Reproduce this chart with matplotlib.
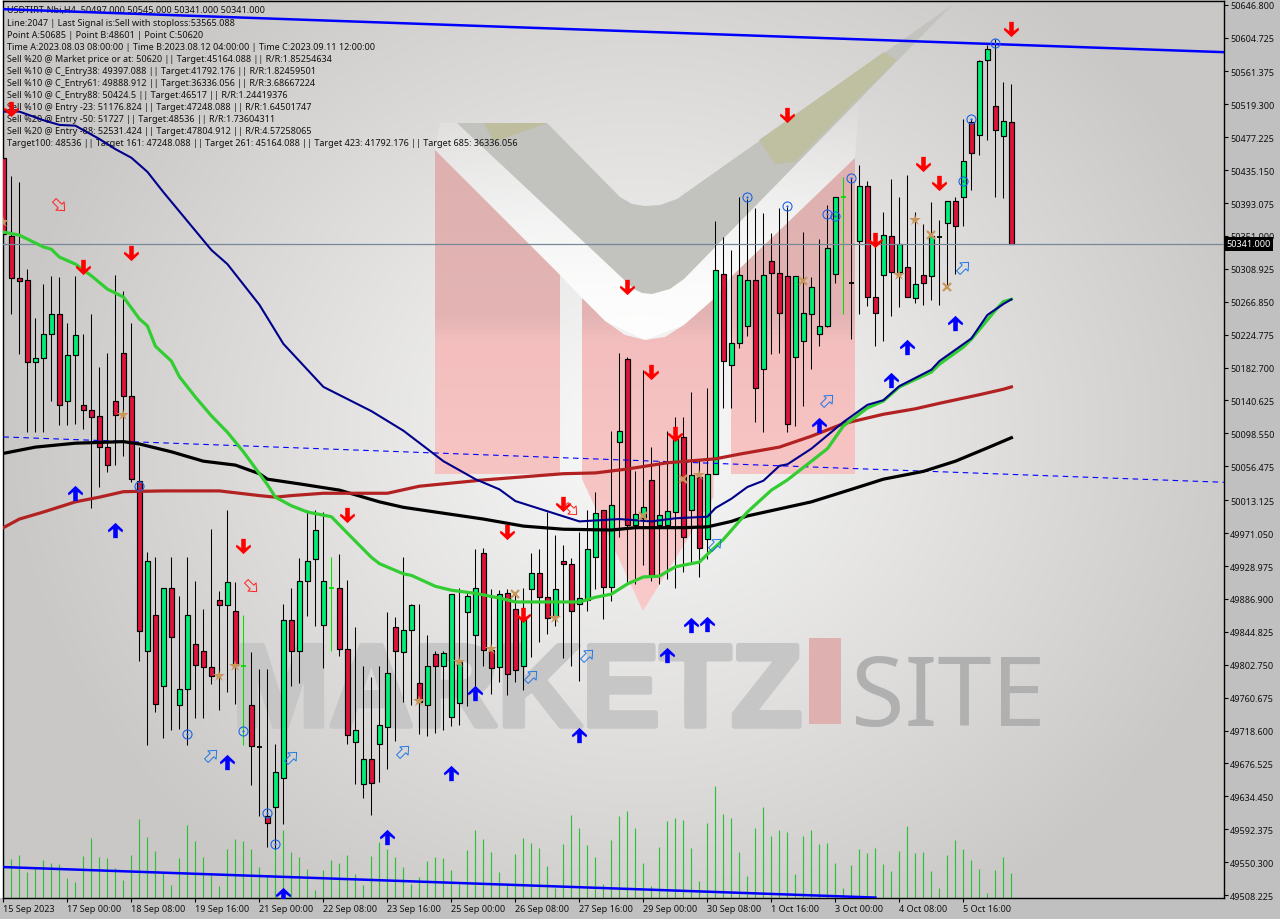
import numpy as np
import matplotlib
matplotlib.use('Agg')
import matplotlib.pyplot as plt
import matplotlib.patheffects as pe
from matplotlib.path import Path
from matplotlib.patches import Polygon, PathPatch, Rectangle

plt.rcParams['font.family'] = ['Noto Sans', 'DejaVu Sans']
FS = 6.5

# OHLC, one row per 4h bar
o = [50451,50351,50297,50295,50190,50195,50226,50251,50140,50199,50135,50128,50121,50081,50140,50201,50146,50038,49820,49866,
     49776,49901,49751,49772,49829,49820,49800,49885,49879,49871,49801,49751,49698,49609,49621,49658,49860,49820,49910,49938,
     49854,49901,49901,49823,49704,49650,49682,49701,49723,49851,49819,49847,49779,49751,49816,49801,49736,49754,49870,49841,
     49946,49822,49800,49894,49874,49801,49900,49920,49889,49865,49935,49932,49880,49885,49940,50001,49902,50088,50194,49981,
     49990,50039,49981,49981,49998,50094,50001,50043,49963,50047,50302,50186,50214,50236,50295,50181,50319,50304,50300,50196,
     50217,50251,50226,50236,50302,50401,50291,50345,50415,50273,50301,50351,50305,50311,50272,50301,50300,50350,50368,50396,
     50401,50497,50480,50576,50517,50479,50497]
h = [50488,50428,50420,50309,50246,50290,50300,50299,50240,50300,50226,50251,50183,50201,50301,50281,50240,50081,49947,49940,
     49901,49940,49891,49940,49910,49874,49976,49897,50001,49909,49866,49819,49797,49797,49701,49880,49901,49939,50001,50001,
     49998,49940,49944,49911,49851,49801,49787,49801,49870,49864,49940,49880,49880,49841,49820,49820,49893,49901,49896,49951,
     49952,49900,49898,49900,49896,49901,49946,49951,49998,49969,49956,49939,49972,50001,50024,50001,50102,50201,50196,50050,
     50180,50081,50063,50102,50119,50119,50151,50066,50157,50370,50350,50333,50401,50398,50387,50380,50355,50387,50388,50300,
     50356,50299,50347,50391,50401,50426,50425,50442,50421,50343,50382,50424,50401,50429,50382,50366,50394,50371,50396,50401,
     50501,50501,50576,50595,50603,50548,50545]
l = [50309,50251,50200,50100,50100,50100,50140,50109,50109,50111,50104,50003,50030,50049,50058,50070,50036,49807,49700,49742,
     49709,49719,49721,49700,49735,49735,49778,49745,49768,49752,49700,49649,49609,49570,49567,49599,49776,49779,49865,49852,
     49799,49820,49814,49701,49650,49632,49611,49653,49669,49705,49755,49751,49714,49712,49715,49719,49724,49726,49750,49759,
     49801,49765,49781,49764,49781,49770,49813,49832,49842,49852,49811,49801,49782,49871,49900,49861,49884,49966,49909,49906,
     49930,49910,49906,49912,49901,49921,49934,49915,49938,50047,50131,50131,50208,50223,50113,50100,50200,50201,50100,50108,
     50134,50181,50210,50235,50291,50251,50219,50251,50261,50210,50217,50249,50260,50273,50265,50263,50269,50263,50287,50302,
     50364,50410,50455,50474,50401,50400,50341]
c = [50353,50297,50293,50190,50195,50226,50251,50135,50199,50224,50128,50119,50081,50058,50122,50146,50040,49846,49935,49752,
     49901,49838,49772,49866,49802,49800,49788,49879,49909,49802,49801,49699,49698,49600,49666,49860,49820,49910,49935,49975,
     49910,49901,49823,49713,49719,49682,49651,49726,49792,49820,49847,49879,49755,49801,49801,49818,49893,49806,49891,49901,
     49822,49799,49893,49791,49796,49864,49920,49889,49862,49900,49932,49871,49888,49951,49997,49902,50007,50102,49981,49995,
     50004,49917,49994,49999,50091,49966,50045,49952,50047,50307,50191,50214,50301,50295,50157,50301,50304,50252,50111,50300,
     50252,50286,50236,50336,50401,50401,50291,50415,50273,50252,50352,50305,50341,50273,50290,50291,50351,50350,50396,50364,
     50447,50457,50575,50590,50486,50498,50341]
lime_doji = [30, 41, 105]

volume = [42,39,43,26,31,38,35,34,20,16,42,60,41,40,30,18,43,79,61,47,26,13,40,73,57,41,23,12,49,59,57,49,31,22,50,68,46,41,29,8,
          28,38,35,43,24,13,42,56,49,41,31,14,21,37,41,40,28,14,48,68,59,46,26,15,44,60,55,50,32,10,54,83,70,53,41,14,58,82,87,70,
          35,12,51,77,80,78,50,17,75,112,84,80,46,22,70,91,62,68,66,24,62,68,54,55,35,10,33,49,45,50,34,27,47,72,45,46,27,10,43,58,
          49,38,29,5,28,41,25]

# moving averages, read at some bars
ma_green_i = [0,2,5,6,7,9,11,13,15,17,18,19,21,22,24,26,28,30,32,33,34,36,38,41,43,46,47,50,51,54,56,59,62,64,69,72,74,76,78,80,82,84,87,88,90,93,96,98,101,103,105,108,110,112,116,117,120,121,124,125,126]
ma_green = [50356,50352,50337,50334,50324,50315,50300,50283,50273,50245,50236,50210,50191,50171,50145,50121,50100,50075,50047,50033,50017,50006,49998,49992,49971,49940,49932,49919,49917,49903,49898,49894,49888,49883,49883,49883,49889,49893,49906,49915,49916,49928,49934,49944,49963,49998,50026,50039,50063,50079,50108,50131,50140,50158,50177,50187,50209,50219,50256,50267,50270]
ma_navy_i = [0,2,5,7,9,12,14,16,18,20,23,26,28,32,35,40,46,50,55,59,62,64,68,72,77,81,84,88,89,91,93,95,97,98,101,105,108,110,112,116,117,121,123,125,126]
ma_navy = [50510,50510,50499,50493,50492,50475,50462,50451,50433,50407,50370,50333,50315,50263,50213,50158,50127,50102,50063,50040,50027,50012,49999,49986,49989,49986,49990,49992,50003,50015,50030,50038,50057,50059,50079,50113,50135,50141,50159,50180,50191,50220,50250,50264,50270]
ma_red_i = [0,2,5,9,12,15,20,27,32,34,36,40,48,52,60,70,74,78,83,89,92,97,101,105,110,114,117,122,125,126]
ma_red = [49978,49989,49998,50011,50017,50024,50025,50025,50019,50017,50019,50022,50022,50031,50039,50047,50048,50053,50061,50066,50072,50081,50095,50111,50123,50130,50137,50148,50155,50158]
ma_black_i = [0,4,9,15,17,21,25,29,32,33,37,42,47,50,56,60,65,70,76,79,85,88,91,93,97,101,106,110,115,119,123,126]
ma_black = [50073,50081,50086,50088,50085,50075,50063,50058,50047,50040,50034,50026,50011,50004,49995,49989,49980,49976,49975,49978,49978,49979,49986,49993,50002,50011,50027,50040,50050,50063,50080,50093]

# trend lines, (bar, price) at both ends
trend_top_i, trend_top = [0, 152.6], [50641, 50586]
trend_low_i, trend_low = [0, 109], [49544, 49505]
trend_dash_i, trend_dash = [0, 152.6], [50094, 50036]
last_price = 50341

# signals
sell_i = [1,10,16,30,43,63,70,65,78,81,84,98,109,115,117,126]
sell_p = [50513,50311,50329,49955,49994,49972,50008,49866,50286,50177,50098,50506,50346,50443,50419,50616]
buy_i = [9,14,28,35,48,56,59,72,83,86,88,102,111,113,119]
buy_p = [50022,49975,49678,49508,49582,49664,49767,49713,49815,49854,49855,50109,50167,50209,50240]
hollow_up_i = [26,36,50,66,73,89,103,120]
hollow_up_p = [49687,49685,49692,49788,49815,49957,50141,50311]
hollow_dn_i = [7,31,71]
hollow_dn_p = [50391,49903,50002]
ring_i = [17,23,30,33,34,93,98,103,104,106,120,121,124]
ring_p = [50031,49714,49718,49613,49573,50401,50389,50379,50377,50425,50421,50501,50598]
star_i = [0,15,27,29,52,57,61,69,87,112,114]
star_p = [50369,50122,49788,49801,49756,49806,49823,49862,50045,50301,50371]
cross_i = [64,80,85,100,116,118]
cross_p = [49893,49993,50040,50293,50352,50286]

ytick_vals = [50646.800,50604.725,50561.375,50519.300,50477.225,50435.150,50393.075,50351.000,50308.925,50266.850,
              50224.775,50182.700,50140.625,50098.550,50056.475,50013.125,49971.050,49928.975,49886.900,49844.825,
              49802.750,49760.675,49718.600,49676.525,49634.450,49592.375,49550.300,49508.225]
xtick_labels = ['15 Sep 2023','17 Sep 00:00','18 Sep 08:00','19 Sep 16:00','21 Sep 00:00','22 Sep 08:00','23 Sep 16:00','25 Sep 00:00',
                '26 Sep 08:00','27 Sep 16:00','29 Sep 00:00','30 Sep 08:00','1 Oct 16:00','3 Oct 00:00','4 Oct 08:00','5 Oct 16:00']

header = ['USDTIRT-Nbi,H4  50497.000 50545.000 50341.000 50341.000',
          'Line:2047 | Last Signal is:Sell with stoploss:53565.088',
          'Point A:50685 | Point B:48601 | Point C:50620',
          'Time A:2023.08.03 08:00:00 | Time B:2023.08.12 04:00:00 | Time C:2023.09.11 12:00:00',
          'Sell %20 @ Market price or at: 50620 || Target:45164.088 || R/R:1.85254634',
          'Sell %10 @ C_Entry38: 49397.088 || Target:41792.176 || R/R:1.82459501',
          'Sell %10 @ C_Entry61: 49888.912 || Target:36336.056 || R/R:3.68667224',
          'Sell %10 @ C_Entry88: 50424.5 || Target:46517 || R/R:1.24419376',
          'Sell %10 @ Entry -23: 51176.824 || Target:47248.088 || R/R:1.64501747',
          'Sell %20 @ Entry -50: 51727 || Target:48536 || R/R:1.73604311',
          'Sell %20 @ Entry -88: 52531.424 || Target:47804.912 || R/R:4.57258065',
          'Target100: 48536 || Target 161: 47248.088 || Target 261: 45164.088 || Target 423: 41792.176 || Target 685: 36336.056']

W, H = 1280, 920
L, R, T, B = 3, 1224, 2, 899
fig = plt.figure(figsize=(W/100, H/100), dpi=100, facecolor='#C0C0C0')
box = [L/W, 1-B/H, (R-L)/W, (B-T)/H]
fig.patches.append(Rectangle((0, 1-B/H), L/W, B/H, transform=fig.transFigure, fc='white', ec='none'))

# ---- background and watermark, in pixels ----
bg = fig.add_axes(box, zorder=1)
bg.axis('off')
yy, xx = np.mgrid[T:B:200j, L:R:300j]
r = np.minimum(np.sqrt(((xx-640)/640)**2 + ((yy-430)/570)**2), 1)
v = 250 - 48*r
img = np.dstack([v, v-2*r, v-4*r])/255
bg.imshow(img, extent=(L, R, B, T), aspect='auto', zorder=0, interpolation='bilinear')

# white band round the chevron, fades out upwards
band = PathPatch(Path([(440,124),(457,124),(634,290),(652,295),(670,285),(860,90),(855,159),(731,278),(713,302),(684,326),(645,341),(605,322),(582,299),(560,276),(435,151),(440,124)],
                      closed=True), transform=bg.transData, fc='none', ec='none')
bg.add_patch(band)
a = np.interp(np.linspace(90, 345, 100), [90, 160, 300, 345], [0.0, 0.3, 0.85, 0.9])
white = np.ones((100, 1, 4))
white[:, 0, 3] = a
im_band = bg.imshow(white, extent=(430, 865, 345, 90), aspect='auto', zorder=1)
im_band.set_clip_path(band)

# pink M with a vertical shade
pink = [[(435,151),(560,276),(560,475),(435,475)],
        [(582,299),(605,322),(625,336),(645,341),(665,338),(684,326),(713.6,300),(713.6,498),(643,612),(582,480)],
        [(731,278),(855,159),(855,475),(731,475)]]
verts, codes = [], []
for poly in pink:
    verts += poly + [poly[0]]
    codes += [Path.MOVETO] + [Path.LINETO]*(len(poly)-1) + [Path.CLOSEPOLY]
pink_path = PathPatch(Path(verts, codes), transform=bg.transData, fc='none', ec='none')
bg.add_patch(pink_path)
s = np.linspace(0, 1, 100)[:, None]
stops_y = [0, 0.36, 0.42, 1]
shade = np.dstack([np.interp(s, stops_y, [222,228,244,250]), np.interp(s, stops_y, [176,180,190,202]), np.interp(s, stops_y, [176,180,190,202])])/255
im = bg.imshow(shade, extent=(430, 860, 612, 150), aspect='auto', zorder=2)
im.set_clip_path(pink_path)
bg.set_xlim(L, R)
bg.set_ylim(B, T)
# grey chevron
bg.add_patch(Polygon([(457,124),(547,124),(620,198),(632,205),(645,207),(660,206),(677,200),(952,6),(684,280),(670,290),(652,295),(642,294),(634,290)],
                     fc='#C2C2BF', ec='none', zorder=3))
bg.add_patch(Polygon([(484,124),(547,124),(494,143)], fc='#BEBE9E', ec='none', zorder=4))
bg.add_patch(Polygon([(759,141),(884,53),(897,61),(795,163),(775,165)], fc='#BFBFA2', ec='none', zorder=4))

bg.text(232, 727, 'MARKETZ', fontsize=84, family=['Liberation Sans', 'DejaVu Sans'], fontweight='bold', color='#C6C6C6',
        va='baseline', ha='left', zorder=5, path_effects=[pe.withStroke(linewidth=4, foreground='#C6C6C6')])
bg.add_patch(Rectangle((809, 639), 32, 86, fc='#DFB0B0', ec='none', zorder=5))
bg.text(851, 726, 'SITE', fontsize=70, color='#B0B0B0', va='baseline', ha='left', zorder=5)

y0 = 10.3
for k, line in enumerate(header):
    bg.text(7, y0 + 12*k + (1.4 if k > 0 else 0), line, fontsize=FS, color='#111111', va='center', ha='left', zorder=6)

# ---- volume ----
xmin = (L-3.4)/8
xmax = (R-3.4)/8
av = fig.add_axes(box, zorder=2)
av.patch.set_visible(False)
av.axis('off')
av.set_xlim(xmin, xmax)
av.set_ylim(0, B-T)
av.vlines(range(len(volume)), 0, volume, color='#2FC03A', lw=0.85, snap=True)

# ---- price ----
ax = fig.add_axes(box, zorder=3)
ax.patch.set_visible(False)
ax.set_xlim(xmin, xmax)
ax.set_ylim(50654-1.2787*B, 50654-1.2787*T)

idx = np.arange(len(o))
o, h, l, c = map(np.array, (o, h, l, c))
wick_cols = ['#00E000' if i in lime_doji else 'black' for i in idx]
ax.vlines(idx, l, h, colors=wick_cols, lw=0.75, zorder=2, snap=True)
up = c > o
dn = c < o
ax.bar(idx[up], (c-o)[up], bottom=o[up], width=0.55, color='#00EE76', edgecolor='black', lw=0.85, zorder=3)
ax.bar(idx[dn], (o-c)[dn], bottom=c[dn], width=0.55, color='#DC143C', edgecolor='black', lw=0.85, zorder=3)
flat = c == o
ax.hlines(o[flat], idx[flat]-0.3, idx[flat]+0.3, colors=[wick_cols[i] for i in idx[flat]], lw=1.3, zorder=3)

ax.plot(trend_dash_i, trend_dash, color='#0000FF', lw=0.8, ls=(0, (5, 4)), zorder=4)
ax.plot(trend_top_i, trend_top, color='#0000FF', lw=1.8, zorder=4)
ax.plot(trend_low_i, trend_low, color='#0000FF', lw=1.8, zorder=4)
ax.plot(ma_black_i, ma_black, color='black', lw=2.3, zorder=5)
ax.plot(ma_red_i, ma_red, color='#B22222', lw=2.3, zorder=5)
ax.plot(ma_green_i, ma_green, color='#32CD32', lw=2.3, zorder=5)
ax.plot(ma_navy_i, ma_navy, color='#00008B', lw=1.5, zorder=6)
ax.axhline(last_price, color='#778899', lw=0.9, zorder=4)

# signal markers
arrow = np.array([(0,1),(1,0.05),(0.9,-0.25),(0.3,0.2),(0.3,-1),(-0.3,-1),(-0.3,0.2),(-0.9,-0.25),(-1,0.05),(0,1)])
diag = np.array([(0,1),(0.8,0.1),(0.35,0.1),(0.35,-1),(-0.35,-1),(-0.35,0.1),(-0.8,0.1),(0,1)])
rot = lambda pts, a: pts @ np.array([[np.cos(a), np.sin(a)], [-np.sin(a), np.cos(a)]])
ax.plot(buy_i, buy_p, ls='none', marker=Path(arrow), ms=11, mew=0, color='#0000FF', zorder=7)
ax.plot(sell_i, sell_p, ls='none', marker=Path(arrow*[1,-1]), ms=11, mew=0, color='#FF0000', zorder=7)
ax.plot(hollow_up_i, hollow_up_p, ls='none', marker=Path(rot(diag, np.radians(-45))), ms=10, mew=0.7, mfc='none', mec='#1E78E6', zorder=7)
ax.plot(hollow_dn_i, hollow_dn_p, ls='none', marker=Path(rot(diag, np.radians(-135))), ms=10, mew=0.7, mfc='none', mec='#FF2020', zorder=7)
ax.plot(ring_i, ring_p, ls='none', marker='o', ms=6.5, mew=0.8, mfc='none', mec='#1E64E6', zorder=7)
ax.plot(ring_i, ring_p, ls='none', marker='o', ms=1.6, mew=0, color='#1E64E6', zorder=7)
ax.plot(star_i, star_p, ls='none', marker='*', ms=9, mew=0, color='#C8965A', zorder=7)
ax.plot(cross_i, cross_p, ls='none', marker='x', ms=5.5, mew=1.6, color='#C8965A', zorder=7)

ax.yaxis.tick_right()
ax.set_yticks(ytick_vals)
ax.set_yticklabels(['%.3f' % t for t in ytick_vals], fontsize=FS, color='#111111')
ax.set_xticks(np.arange(len(xtick_labels))*8)
ax.set_xticklabels(xtick_labels, fontsize=FS, color='#111111', ha='left')
ax.tick_params(axis='y', length=3, width=0.8, pad=1.5)
ax.tick_params(axis='x', length=3, width=0.8, pad=1.5)
for sp in ax.spines.values():
    sp.set_linewidth(1.0)
    sp.set_color('black')

ax.text(1.002, last_price, '%.3f' % last_price, transform=ax.get_yaxis_transform(), fontsize=FS, color='white',
        va='center', ha='left', clip_on=False, zorder=9,
        bbox=dict(boxstyle='square,pad=0.25', fc='black', ec='none'))

fig.savefig('out.png', dpi=100, facecolor=fig.get_facecolor())
